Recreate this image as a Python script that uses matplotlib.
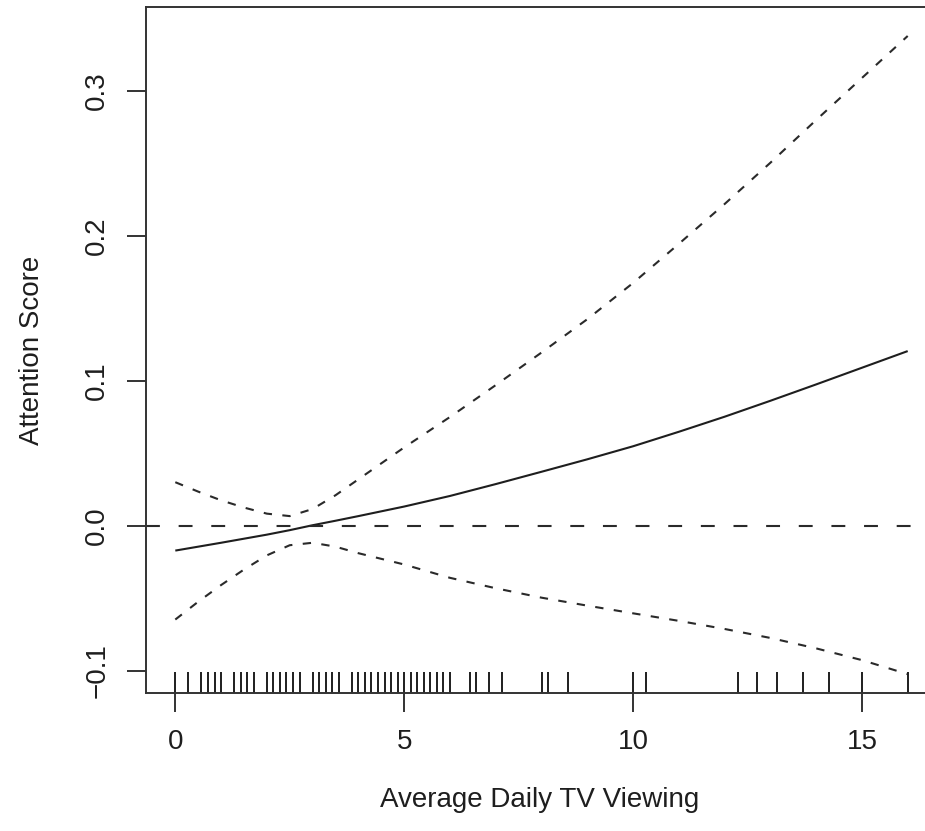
import matplotlib
matplotlib.use("Agg")
import matplotlib.pyplot as plt

plt.rcParams['font.family'] = ['Liberation Sans', 'DejaVu Sans']
plt.rcParams['lines.scale_dashes'] = False

# Fitted smooth and confidence band
x_grid = [0, 0.5, 1, 1.5, 2, 2.5, 3, 3.5, 4, 5, 6, 7, 8, 9, 10, 11, 12, 13, 14, 15, 16]
fit = [-0.0172, -0.0145, -0.0118, -0.0090, -0.0062, -0.0031, 0.0003, 0.0034, 0.0066,
       0.0132, 0.0205, 0.0287, 0.0372, 0.0458, 0.0548, 0.0648, 0.0752, 0.0862, 0.0975,
       0.1090, 0.1205]
upper = [0.0300, 0.0235, 0.0175, 0.0125, 0.0083, 0.0066, 0.0115, 0.0210, 0.0320,
         0.0540, 0.0750, 0.0970, 0.1195, 0.1425, 0.1675, 0.1945, 0.2220, 0.2505, 0.2800,
         0.3090, 0.3380]
lower = [-0.0648, -0.0525, -0.0410, -0.0303, -0.0205, -0.0135, -0.0118, -0.0145, -0.0190,
         -0.0268, -0.0360, -0.0432, -0.0497, -0.0552, -0.0605, -0.0657, -0.0713, -0.0775,
         -0.0847, -0.0928, -0.1025]

# Observed TV viewing values (rug)
rug_x = [0.0, 0.286, 0.571, 0.714, 0.857, 1.0, 1.286, 1.429, 1.571, 1.714, 2.0, 2.143,
         2.286, 2.429, 2.571, 2.714, 3.0, 3.143, 3.286, 3.429, 3.571, 3.857, 4.0, 4.143,
         4.286, 4.429, 4.571, 4.714, 4.857, 5.0, 5.143, 5.286, 5.429, 5.571, 5.714, 5.857,
         6.0, 6.429, 6.571, 6.857, 7.143, 8.0, 8.143, 8.571, 10.0, 10.286, 12.286, 12.714,
         13.143, 13.714, 14.286, 15.0, 16.0]

x_ticks = [0, 5, 10, 15]
y_ticks = [-0.1, 0.0, 0.1, 0.2, 0.3]
y_tick_labels = ["\u22120.1", "0.0", "0.1", "0.2", "0.3"]

ink = '#1e1e1e'
fig = plt.figure(figsize=(9.25, 8.31), dpi=100, facecolor='white')
ax = fig.add_axes([146/925, 138/831, (937-146)/925, (693-7)/831])
ax.set_facecolor('white')

ax.plot(x_grid, fit, color=ink, lw=1.5, solid_capstyle='butt')
ax.plot(x_grid, upper, color='#2a2a2a', lw=1.5, dashes=(6.0, 7.5))
ax.plot(x_grid, lower, color='#2a2a2a', lw=1.5, dashes=(6.0, 7.5))
ax.axhline(0, color='#2a2a2a', lw=1.5, dashes=(10.0, 13.5))
ax.vlines(rug_x, 0, 0.03, transform=ax.get_xaxis_transform(), color=ink, lw=1.4)

ax.set_xlim(-0.64, 16.64)
ax.set_ylim(-0.1155, 0.358)
ax.set_xticks(x_ticks)
ax.set_xticklabels([str(t) for t in x_ticks])
ax.set_yticks(y_ticks)
ax.set_yticklabels(y_tick_labels, rotation=90, va='center')

for s in ax.spines.values():
    s.set_color('#333333')
    s.set_linewidth(1.4)

ax.tick_params(axis='both', length=13.7, width=1.4, color='#333333',
               labelsize=20, labelcolor=ink, pad=12)

fig.text(540/925, 1 - 800/831, "Average Daily TV Viewing", ha='center', va='center',
         fontsize=20, color=ink)
fig.text(32/925, 1 - 350/831, "Attention Score", ha='center', va='center',
         rotation=90, fontsize=20, color=ink)

fig.savefig("out.png", dpi=100, facecolor='white')
